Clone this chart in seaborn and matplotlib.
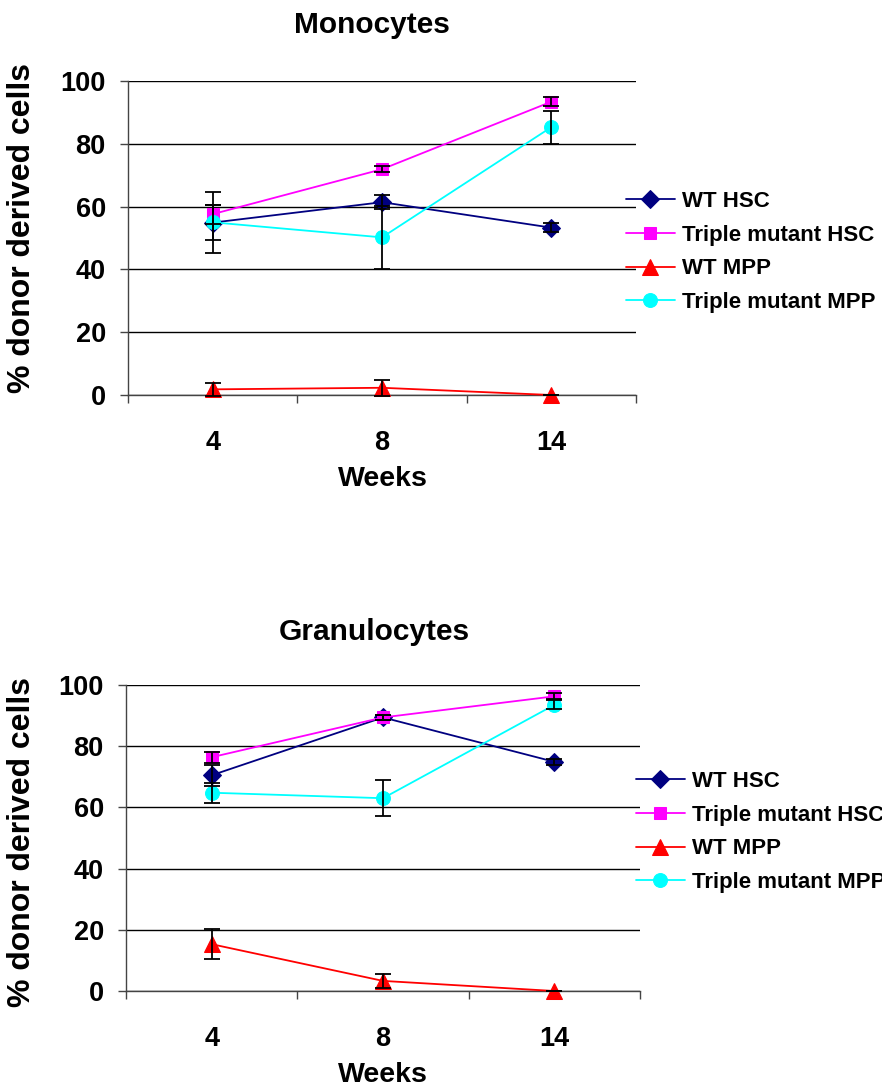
import matplotlib
matplotlib.use("Agg")
import matplotlib.pyplot as plt
import seaborn as sns
import numpy as np
import pandas as pd

weeks = ["4", "8", "14"]
series_names = ["WT HSC", "Triple mutant HSC", "WT MPP", "Triple mutant MPP"]

mono_wt_hsc = [54.9, 61.4, 53.3]
mono_wt_hsc_err = [5.5, 2.3, 1.5]
mono_tm_hsc = [57.6, 71.9, 93.4]
mono_tm_hsc_err = [3.0, 1.0, 1.5]
mono_wt_mpp = [1.8, 2.3, 0.0]
mono_wt_mpp_err = [2.0, 2.5, 0.0]
mono_tm_mpp = [55.0, 50.2, 85.3]
mono_tm_mpp_err = [9.8, 10.0, 5.3]

gran_wt_hsc = [70.5, 89.4, 74.9]
gran_wt_hsc_err = [3.5, 0.8, 1.0]
gran_tm_hsc = [76.4, 89.4, 96.3]
gran_tm_hsc_err = [1.8, 0.8, 1.0]
gran_wt_mpp = [15.3, 3.3, 0.0]
gran_wt_mpp_err = [4.8, 2.4, 0.0]
gran_tm_mpp = [64.8, 63.0, 93.5]
gran_tm_mpp_err = [3.3, 5.8, 1.5]

y_ticks = [0, 20, 40, 60, 80, 100]

colors = ["#000080", "#FF00FF", "#FF0000", "#00FFFF"]
markers = ["D", "s", "^", "o"]
msizes = [9, 9, 11, 10]

sns.set_theme(style="white")
plt.rcParams["font.family"] = ["Liberation Sans", "DejaVu Sans"]
plt.rcParams["font.weight"] = "bold"
plt.rcParams["text.color"] = "black"
plt.rcParams["xtick.color"] = "black"
plt.rcParams["ytick.color"] = "black"
plt.rcParams["xtick.labelcolor"] = "black"
plt.rcParams["ytick.labelcolor"] = "black"

fig = plt.figure(figsize=(8.82, 10.86), dpi=100)

def draw_panel(ax, vals, errs, title, title_xy, ylab_y, legend_anchor):
    xpos = np.arange(len(weeks)) + 0.5
    for i, name in enumerate(series_names):
        df = pd.DataFrame({"x": xpos, "y": vals[i]})
        sns.lineplot(data=df, x="x", y="y", ax=ax, color=colors[i], marker=markers[i],
                     markersize=msizes[i], markeredgecolor=colors[i], linewidth=1.3,
                     label=name, clip_on=False, zorder=3)
        ax.errorbar(xpos, vals[i], yerr=errs[i], fmt="none", ecolor="black",
                    elinewidth=1.3, capsize=5.5, capthick=1.3, zorder=4, clip_on=False)
    ax.set_xlim(0, 3)
    ax.set_ylim(0, 100)
    ax.set_yticks(y_ticks)
    ax.set_yticklabels([str(t) for t in y_ticks], fontsize=19.5, fontweight="bold")
    ax.set_xticks([0, 1, 2, 3])
    ax.set_xticklabels([])
    ax.set_xticks(xpos, minor=True)
    ax.set_xticklabels(weeks, minor=True, fontsize=19.5, fontweight="bold")
    ax.tick_params(axis="x", which="minor", length=0, pad=25)
    ax.tick_params(axis="x", which="major", length=6, width=1, color="#444444", direction="out", bottom=True)
    ax.tick_params(axis="y", length=6, width=1, color="#444444", direction="out", left=True, pad=10)
    ax.grid(axis="y", color="black", linewidth=1)
    ax.grid(axis="x", visible=False)
    for s in ["top", "right"]:
        ax.spines[s].set_visible(False)
    for s in ["left", "bottom"]:
        ax.spines[s].set_color("#444444")
        ax.spines[s].set_linewidth(1)
    ax.set_xlabel("")
    ax.set_ylabel("")
    fig.text(title_xy[0], title_xy[1], title, fontsize=21.5, fontweight="bold", ha="center", va="center")
    fig.text(22 / 882, ylab_y, "% donor derived cells", rotation=90, fontsize=23,
             fontweight="bold", ha="center", va="center")
    ax.legend_.remove()
    h, l = ax.get_legend_handles_labels()
    fig.legend(h, l, loc="center left", bbox_to_anchor=legend_anchor, frameon=False,
               prop={"size": 16, "weight": "bold"}, handlelength=2.2, handletextpad=0.3,
               labelspacing=0.57, borderpad=0, borderaxespad=0)

ax1 = fig.add_axes([128 / 882, 1 - 395 / 1086, (636 - 128) / 882, (395 - 81) / 1086])
draw_panel(ax1,
           [mono_wt_hsc, mono_tm_hsc, mono_wt_mpp, mono_tm_mpp],
           [mono_wt_hsc_err, mono_tm_hsc_err, mono_wt_mpp_err, mono_tm_mpp_err],
           "Monocytes", (372 / 882, 1 - 25 / 1086), 1 - 228 / 1086, (626 / 882, 1 - 252 / 1086))
fig.text(383 / 882, 1 - 479 / 1086, "Weeks", fontsize=20.5, fontweight="bold", ha="center", va="center")

ax2 = fig.add_axes([126 / 882, 1 - 991 / 1086, (640 - 126) / 882, (991 - 685) / 1086])
draw_panel(ax2,
           [gran_wt_hsc, gran_tm_hsc, gran_wt_mpp, gran_tm_mpp],
           [gran_wt_hsc_err, gran_tm_hsc_err, gran_wt_mpp_err, gran_tm_mpp_err],
           "Granulocytes", (374 / 882, 1 - 632 / 1086), 1 - 842 / 1086, (636 / 882, 1 - 832 / 1086))
fig.text(383 / 882, 1 - 1075 / 1086, "Weeks", fontsize=20.5, fontweight="bold", ha="center", va="center")

fig.savefig("out.png", dpi=100, facecolor="white")
